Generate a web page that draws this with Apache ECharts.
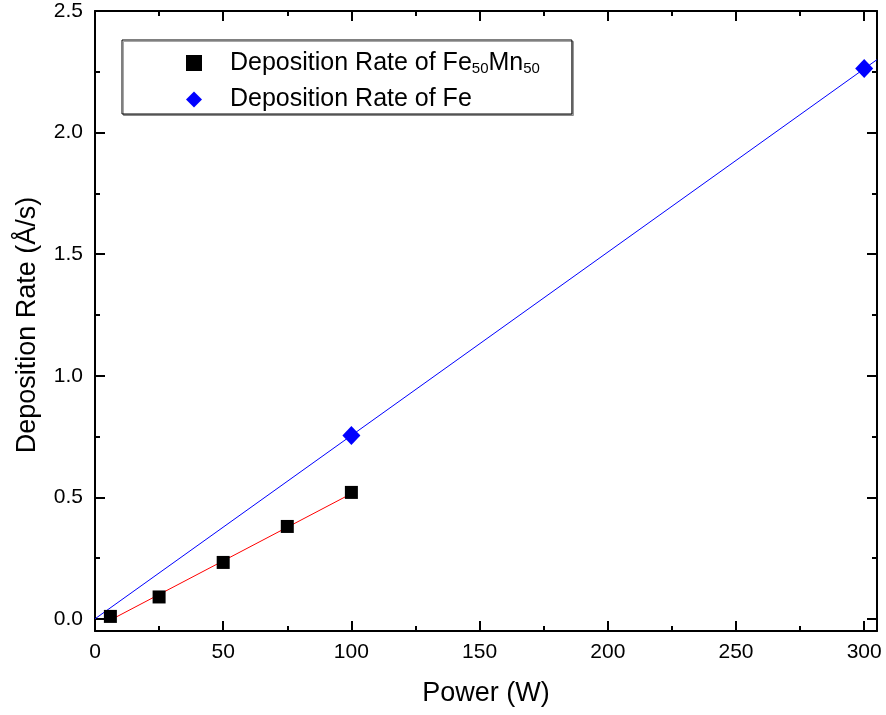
<!DOCTYPE html>
<html>
<head>
<meta charset="utf-8">
<script src="https://cdn.jsdelivr.net/npm/echarts@6/dist/echarts.min.js"></script>
<style>html,body{margin:0;padding:0;background:#fff}#c{width:886px;height:715px}</style>
</head>
<body>
<div id="c"></div>
<script>
// Data
var feMnPower = [6, 25, 50, 75, 100];
var feMnRate = [0.01, 0.09, 0.232, 0.38, 0.52];
var fePower = [100, 300];
var feRate = [0.754, 2.264];
// fitted lines (endpoints)
var feMnFitX = [6, 100];
var feMnFitY = [-0.005, 0.515];
var feFitX = [0, 305];
var feFitY = [0.0, 2.30];
var yMajor = [0, 0.5, 1.0, 1.5, 2.0, 2.5];
var yMinor = [0.25, 0.75, 1.25, 1.75, 2.25];

function pairs(a, b) { return a.map(function (v, i) { return [v, b[i]]; }); }

var FONT = 'Liberation Sans, Arial, sans-serif';
var chart = echarts.init(document.getElementById('c'), null, {renderer: 'canvas'});

function yAx(pos, major, labels, len) {
  return {
    type: 'value', position: pos, min: -0.05, max: 2.5,
    axisLine: {show: major, lineStyle: {color: '#000', width: 2}},
    axisTick: {show: true, inside: true, length: len, customValues: major ? yMajor : yMinor, lineStyle: {color: '#000', width: 2}},
    axisLabel: {show: labels, customValues: yMajor, margin: 12, fontSize: 21, color: '#000', fontFamily: FONT,
      formatter: function (v) { return v.toFixed(1); }},
    splitLine: {show: false},
    name: labels ? 'Deposition Rate (Å/s)' : '',
    nameLocation: 'middle', nameGap: 54,
    nameTextStyle: {fontSize: 27, color: '#000', fontFamily: FONT, padding: [0, 8, 0, 0]}
  };
}
function xAx(pos, labels) {
  return {
    type: 'value', position: pos, min: 0, max: 305, interval: 50,
    axisLine: {show: true, onZero: false, lineStyle: {color: '#000', width: 2}},
    axisTick: {show: true, inside: true, length: 10, lineStyle: {color: '#000', width: 2}},
    minorTick: {show: true, splitNumber: 2, length: 5, lineStyle: {color: '#000', width: 2}},
    axisLabel: {show: labels, margin: 11, fontSize: 21, color: '#000', fontFamily: FONT},
    splitLine: {show: false},
    name: labels ? 'Power (W)' : '',
    nameLocation: 'middle', nameGap: 49,
    nameTextStyle: {fontSize: 27, color: '#000', fontFamily: FONT}
  };
}

var option = {
  animation: false,
  backgroundColor: '#fff',
  grid: {left: 95, right: 9, top: 11, bottom: 84},
  xAxis: [xAx('bottom', true), xAx('top', false)],
  yAxis: [yAx('left', true, true, 10), yAx('left', false, false, 5), yAx('right', true, false, 10), yAx('right', false, false, 5)],
  legend: {
    left: 122, top: 40, orient: 'vertical',
    data: ['FeMn', 'Fe'],
    itemWidth: 16, itemHeight: 16, itemGap: 11,
    padding: [9, 32, 2, 64],
    backgroundColor: '#fff', borderColor: '#000', borderWidth: 1,
    shadowColor: 'rgba(0,0,0,0.35)', shadowOffsetX: 1.5, shadowOffsetY: 1.5, shadowBlur: 0,
    formatter: function (n) {
      return n === 'FeMn' ? '{g|}{n|Deposition Rate of Fe}{s|50}{n|Mn}{s|50}' : '{g|}{n|Deposition Rate of Fe}';
    },
    textStyle: {
      fontFamily: FONT, fontSize: 25, color: '#000',
      rich: {
        g: {width: 23, lineHeight: 26},
        n: {fontSize: 25, fontFamily: FONT, color: '#000', lineHeight: 26},
        s: {fontSize: 15, fontFamily: FONT, color: '#000', verticalAlign: 'bottom', lineHeight: 26, padding: [12, 0, 0, 0]}
      }
    }
  },
  series: [
    {name: 'FeMnFit', type: 'line', data: pairs(feMnFitX, feMnFitY), symbol: 'none', lineStyle: {color: '#ff0000', width: 1}, z: 1},
    {name: 'FeFit', type: 'line', data: pairs(feFitX, feFitY), symbol: 'none', lineStyle: {color: '#0000ff', width: 1}, z: 1},
    {name: 'FeMn', type: 'scatter', data: pairs(feMnPower, feMnRate), symbol: 'rect', symbolSize: 13, itemStyle: {color: '#000', opacity: 1}, z: 3},
    {name: 'Fe', type: 'scatter', data: pairs(fePower, feRate), symbol: 'diamond', symbolSize: [18, 19], itemStyle: {color: '#0000ff', opacity: 1}, z: 3}
  ]
};
chart.setOption(option);
</script>
</body>
</html>
